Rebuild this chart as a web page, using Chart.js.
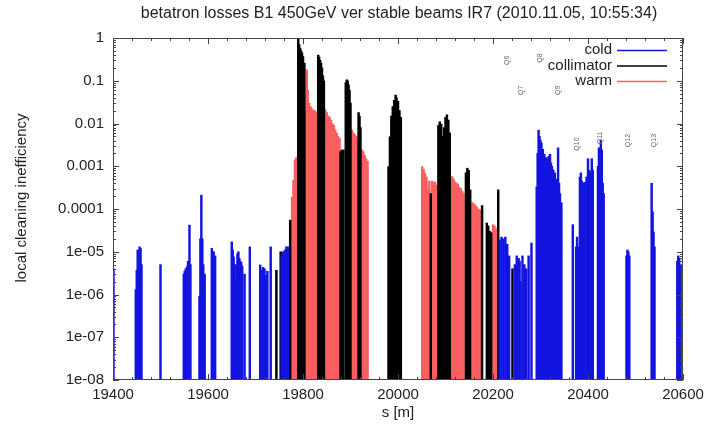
<!DOCTYPE html>
<html>
<head>
<meta charset="utf-8">
<script src="https://cdn.jsdelivr.net/npm/chart.js@4.4.0/dist/chart.umd.min.js"></script>
<style>
  html, body { margin: 0; padding: 0; background: #fff; }
</style>
</head>
<body>
<canvas id="myChart" width="710" height="425"></canvas>
<script>
// loss map values, s in metres, local cleaning inefficiency
const coldS = [19401, 19448, 19450, 19452, 19454, 19456, 19458, 19460, 19500,
  19549, 19551, 19553, 19556, 19558, 19561, 19563,
  19582, 19584, 19586, 19588, 19590, 19593, 19608, 19610, 19612, 19615,
  19650, 19652, 19654, 19656, 19658, 19660, 19662, 19664, 19666, 19668, 19670, 19672, 19677,
  19688, 19710, 19713, 19716, 19719, 19722, 19725, 19732, 19755, 19758, 19762, 19765, 19768,
  20214, 20218, 20222, 20226, 20230, 20234, 20246, 20250, 20254, 20256, 20258, 20262, 20266, 20270, 20275, 20281,
  20292, 20294, 20296, 20298, 20300, 20302, 20305, 20308, 20311, 20314, 20317, 20320, 20322, 20324,
  20327, 20330, 20333, 20337, 20339, 20341, 20344,
  20368, 20375, 20377, 20379, 20383, 20385, 20387, 20390, 20393, 20397, 20400, 20403, 20406, 20408, 20410,
  20421, 20423, 20425, 20427, 20429, 20431, 20433,
  20481, 20483, 20485, 20487, 20534, 20536, 20538, 20540, 20588, 20590, 20592, 20595];
const coldV = [4e-6, 1.3e-6, 3.7e-6, 1.1e-5, 4e-6, 1.3e-5, 1.2e-5, 5e-6, 5e-6,
  3e-6, 3.5e-6, 4e-6, 4.5e-6, 6e-6, 4.2e-5, 5e-6,
  9e-7, 2e-5, 2.1e-4, 2e-5, 5e-6, 3e-6, 1.2e-5, 1e-5, 1e-5, 8e-6,
  1.7e-5, 1.1e-5, 7.5e-6, 5e-6, 2.2e-6, 5e-6, 9e-6, 1e-5, 7e-6, 6e-6, 5.6e-6, 4.6e-6, 3e-6,
  1.3e-5, 4.9e-6, 3.7e-6, 4.3e-6, 4e-6, 2.8e-6, 3.5e-6, 1.3e-5, 8e-6, 1e-5, 1.1e-5, 1.3e-5, 1.3e-5,
  1.9e-5, 2.2e-5, 2e-5, 2.2e-5, 1.5e-5, 8e-6, 5e-6, 8e-6, 7e-6, 6e-6, 2e-6, 8e-6, 5e-6, 4e-6, 8e-6, 1.6e-5,
  3.3e-4, 2e-3, 7e-3, 5e-3, 4e-3, 3.5e-3, 2.5e-3, 1.9e-3, 1.6e-3, 1.5e-3, 1.7e-3, 1.9e-3, 1.2e-3, 1e-3,
  8.2e-4, 7e-4, 5e-4, 2.7e-3, 4e-4, 2.3e-4, 1.4e-4,
  4.3e-5, 1.3e-5, 2.2e-5, 1.3e-5, 5.6e-4, 7e-4, 4.5e-4, 4e-4, 4.2e-4, 5.6e-4, 1.5e-3, 8e-4, 7e-4, 1.5e-3, 8e-4,
  1e-3, 2.7e-3, 1.4e-3, 4.1e-3, 2.4e-3, 4e-4, 2.3e-4,
  8e-6, 1.1e-5, 1e-5, 8e-6, 4e-4, 8.6e-5, 2.9e-5, 1.3e-5, 6e-6, 8e-6, 7e-6, 5e-6];

const collS = [19744, 19753, 19773, 19790, 19792, 19794, 19796, 19798, 19800, 19803,
  19832, 19834, 19836, 19838, 19840, 19842, 19844, 19879, 19882, 19885,
  19890, 19892, 19894, 19896, 19898, 19900, 19917, 19919, 19921,
  19980, 19983, 19986, 19989, 19992, 19995, 19997, 20000, 20003, 20006,
  20069, 20085, 20088, 20091, 20094, 20097, 20100, 20103, 20106, 20109,
  20143, 20146, 20149, 20152, 20177, 20187, 20190, 20193, 20196, 20211, 20241];
const collV = [3.7e-6, 1e-5, 5.5e-5, 0.95, 0.7, 0.58, 0.5, 0.45, 0.37, 0.26,
  0.4, 0.36, 0.3, 0.26, 0.2, 0.13, 0.1, 2.2e-3, 2.4e-3, 2.4e-3,
  0.09, 0.105, 0.1, 0.08, 0.06, 0.03, 0.018, 0.015, 0.008,
  9.8e-4, 4.9e-3, 0.015, 0.025, 0.035, 0.046, 0.04, 0.033, 0.02, 0.014,
  2.3e-4, 0.009, 0.011, 0.0095, 0.005, 0.008, 0.014, 0.016, 0.012, 0.006,
  7e-4, 9e-4, 8e-4, 2.8e-4, 1.2e-4, 4.7e-5, 4e-5, 3e-5, 2.8e-5, 2.8e-4, 4e-6];

const warmS = [19777, 19780, 19783, 19786, 19806, 19808, 19810, 19813, 19816, 19819, 19822, 19825, 19828,
  19847, 19850, 19853, 19856, 19859, 19862, 19865, 19868, 19871, 19874, 19877,
  19903, 19906, 19909, 19912, 19915, 19924, 19927, 19930, 19933, 19936,
  20051, 20054, 20057, 20060, 20063, 20066, 20072, 20075, 20078, 20081,
  20114, 20117, 20120, 20123, 20126, 20129, 20132, 20135, 20138,
  20157, 20160, 20163, 20166, 20169, 20172, 20175, 20200, 20203, 20206];
const warmV = [1.9e-4, 4.7e-4, 1.4e-3, 1.6e-3, 0.02, 0.18, 0.06, 0.03, 0.025, 0.022, 0.02, 0.02, 0.018,
  0.021, 0.018, 0.015, 0.014, 0.012, 0.01, 0.009, 0.007, 0.006, 0.005, 0.0045,
  0.007, 0.006, 0.0055, 0.005, 0.0045, 2.4e-3, 2.2e-3, 1.8e-3, 1.5e-3, 1.3e-3,
  9.8e-4, 8.5e-4, 6.8e-4, 5.6e-4, 2.8e-4, 4.5e-4, 4.5e-4, 4e-4, 4.3e-4, 3.6e-4,
  5.7e-4, 5e-4, 4.3e-4, 4e-4, 3.8e-4, 3.2e-4, 3e-4, 2.6e-4, 2.3e-4,
  1.4e-4, 1.3e-4, 1.2e-4, 1.1e-4, 1.0e-4, 9.5e-5, 9e-5, 4.3e-5, 4e-5, 3.5e-5];

const xTicks = [19400, 19600, 19800, 20000, 20200, 20400, 20600];
const yTicks = [1, 0.1, 0.01, 0.001, 0.0001, 1e-5, 1e-6, 1e-7, 1e-8];
const yTickLabels = ['1', '0.1', '0.01', '0.001', '0.0001', '1e-05', '1e-06', '1e-07', '1e-08'];

// element names written above the cold peaks
const elemNames = ['Q6', 'Q7', 'Q8', 'Q9', 'Q10', 'Q11', 'Q12', 'Q13'];
const elemS = [20229, 20259, 20299, 20337, 20377, 20425, 20484, 20539];
const elemV = [0.3, 0.06, 0.34, 0.06, 3.3e-3, 4.6e-3, 4e-3, 4e-3];

const seriesNames = ['cold', 'collimator', 'warm'];
const seriesColors = ['rgb(20,20,225)', '#000000', 'rgb(250,95,95)'];

const FONT = '"Liberation Sans", Arial, sans-serif';

let pts = (s, v) => s.map((x, i) => ({ x: x, y: v[i] }));

let frame = {
  id: 'frame',
  afterDraw: chart => {
    let ctx = chart.ctx;
    let a = chart.chartArea;
    let xs = chart.scales.x, ys = chart.scales.y;
    ctx.save();
    ctx.strokeStyle = '#444';
    ctx.lineWidth = 1;
    ctx.strokeRect(a.left + 0.5, a.top + 0.5, a.right - a.left - 1, a.bottom - a.top - 1);

    ctx.beginPath();
    for (let d = -8; d <= 0; d++) {
      let y = Math.round(ys.getPixelForValue(Math.pow(10, d))) + 0.5;
      ctx.moveTo(a.left, y); ctx.lineTo(a.left + 6, y);
      ctx.moveTo(a.right, y); ctx.lineTo(a.right - 6, y);
      if (d < 0) {
        for (let m = 2; m <= 9; m++) {
          let ym = Math.round(ys.getPixelForValue(m * Math.pow(10, d))) + 0.5;
          ctx.moveTo(a.left, ym); ctx.lineTo(a.left + 3, ym);
          ctx.moveTo(a.right, ym); ctx.lineTo(a.right - 3, ym);
        }
      }
    }
    for (let s = xTicks[0]; s <= xTicks[xTicks.length - 1]; s += 40) {
      let major = xTicks.indexOf(s) >= 0;
      let len = major ? 6 : 3;
      let x = Math.round(xs.getPixelForValue(s)) + 0.5;
      ctx.moveTo(x, a.bottom); ctx.lineTo(x, a.bottom - len);
      ctx.moveTo(x, a.top); ctx.lineTo(x, a.top + len);
    }
    ctx.stroke();

    // element labels
    ctx.fillStyle = '#666';
    ctx.font = '7px ' + FONT;
    ctx.textAlign = 'center';
    ctx.textBaseline = 'middle';
    elemNames.forEach((n, i) => {
      ctx.save();
      ctx.translate(xs.getPixelForValue(elemS[i]), ys.getPixelForValue(elemV[i]));
      ctx.rotate(-Math.PI / 2);
      ctx.fillText(n, 0, 0);
      ctx.restore();
    });

    // legend, gnuplot style
    ctx.font = '15px ' + FONT;
    ctx.textAlign = 'right';
    ctx.fillStyle = '#222';
    seriesNames.forEach((n, i) => {
      let y = 50 + i * 15.5;
      ctx.fillText(n, 612, y);
      ctx.strokeStyle = seriesColors[i];
      ctx.lineWidth = 1.5;
      ctx.beginPath();
      ctx.moveTo(617, y + 0.5); ctx.lineTo(667, y + 0.5);
      ctx.stroke();
    });

    // titles
    ctx.fillStyle = '#222';
    ctx.textAlign = 'center';
    ctx.font = '16px ' + FONT;
    ctx.fillText('betatron losses B1 450GeV ver stable beams IR7 (2010.11.05, 10:55:34)', 399, 14);
    ctx.font = '15px ' + FONT;
    ctx.fillText('s [m]', 398, 413);
    ctx.save();
    ctx.translate(22, 198);
    ctx.rotate(-Math.PI / 2);
    ctx.fillText('local cleaning inefficiency', 0, 0);
    ctx.restore();
    ctx.restore();
  }
};

let ctx = document.getElementById('myChart').getContext('2d');
let chart = new Chart(ctx, {
  type: 'bar',
  data: {
    datasets: [
      { label: seriesNames[0], data: pts(coldS, coldV), backgroundColor: seriesColors[0] },
      { label: seriesNames[1], data: pts(collS, collV), backgroundColor: seriesColors[1] },
      { label: seriesNames[2], data: pts(warmS, warmV), backgroundColor: seriesColors[2] },
    ]
  },
  options: {
    responsive: false,
    animation: false,
    devicePixelRatio: 1,
    datasets: { bar: { grouped: false, barThickness: 1.8, borderWidth: 0 } },
    layout: { padding: { left: 0, top: 38, right: 27, bottom: 0 } },
    plugins: { legend: { display: false }, tooltip: { enabled: false } },
    scales: {
      x: {
        type: 'linear',
        offset: false,
        min: 19400,
        max: 20600,
        afterBuildTicks: scale => { scale.ticks = xTicks.map(v => ({ value: v })); },
        afterFit: scale => { scale.height = 45; },
        grid: { display: false, drawTicks: false, offset: false },
        border: { display: false },
        ticks: { color: '#222', font: { family: FONT, size: 15 }, padding: 6, maxRotation: 0,
          callback: v => String(v) }
      },
      y: {
        type: 'logarithmic',
        min: 1e-8,
        max: 1,
        afterBuildTicks: scale => { scale.ticks = yTicks.map(v => ({ value: v })); },
        afterFit: scale => { scale.width = 113; },
        grid: { display: false, drawTicks: false },
        border: { display: false },
        ticks: { color: '#222', font: { family: FONT, size: 15 }, padding: 9,
          callback: (v, i) => yTickLabels[i] }
      }
    }
  },
  plugins: [frame]
});
</script>
</body>
</html>
